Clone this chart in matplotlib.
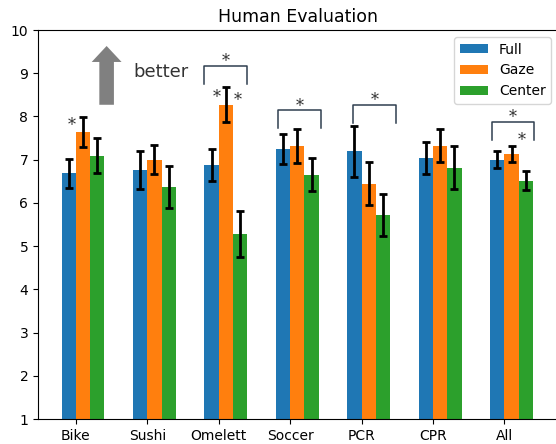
import numpy as np
import matplotlib
matplotlib.use('Agg')
import matplotlib.pyplot as plt

# 数据
tasks = ['Bike', 'Sushi', 'Omelett', 'Soccer', 'PCR', 'CPR', 'All']
full = [6.68, 6.76, 6.88, 7.25, 7.20, 7.04, 7.00]
full_err = [0.34, 0.45, 0.37, 0.35, 0.59, 0.38, 0.20]
gaze = [7.64, 7.00, 8.27, 7.32, 6.44, 7.32, 7.13]
gaze_err = [0.35, 0.34, 0.40, 0.40, 0.50, 0.38, 0.18]
center = [7.09, 6.37, 5.28, 6.65, 5.72, 6.81, 6.51]
center_err = [0.40, 0.48, 0.53, 0.38, 0.48, 0.50, 0.22]

# 显著性标记：括号 (组, 左偏移, 右偏移, 高度)
brackets = [(2, -0.20, 0.40, 9.16), (3, -0.17, 0.43, 8.14),
            (4, -0.12, 0.48, 8.26), (6, -0.18, 0.42, 7.87)]
# 单个星号 (x, y)
stars = [(-0.06, 7.80), (1.97, 8.43), (2.26, 8.37), (6.24, 7.45)]

x = np.arange(len(tasks))
w = 0.2

fig = plt.figure(figsize=(5.56, 4.44), dpi=100)
ax = fig.add_axes([38 / 556, 25 / 444, 520 / 556, 389 / 444])

ekw = dict(elinewidth=2, capsize=3, capthick=2, ecolor='black')
ax.bar(x - w, full, w, align='edge', color='#1f77b4', label='Full',
       yerr=full_err, error_kw=ekw)
ax.bar(x, gaze, w, align='edge', color='#ff7f0e', label='Gaze',
       yerr=gaze_err, error_kw=ekw)
ax.bar(x + w, center, w, align='edge', color='#2ca02c', label='Center',
       yerr=center_err, error_kw=ekw)

ax.set_xticks(x)
ax.set_xticklabels(tasks)
ax.set_ylim(1, 10)
ax.set_title('Human Evaluation', fontsize=12.5)
ax.legend(loc='upper right')

for g, lo, hi, h in brackets:
    ax.plot([g + lo, g + lo, g + hi, g + hi], [h - 0.41, h, h, h - 0.41],
            color='#2f3f4f', lw=1.1)
    ax.text(g + (lo + hi) / 2, h + 0.1, '*', ha='center', va='center',
            fontsize=11.5, family='DejaVu Serif', color='#333333')

for sx, sy in stars:
    ax.text(sx, sy, '*', ha='center', va='center', fontsize=11.5,
            family='DejaVu Serif', color='#333333')

# better 箭头
ax.annotate('', xy=(0.43, 9.63), xytext=(0.43, 8.27),
            arrowprops=dict(facecolor='#808080', edgecolor='none',
                            width=10.5, headwidth=21.5, headlength=11.5,
                            shrink=0))
ax.text(0.81, 9.03, 'better', fontsize=13, va='center', color='#333333')

fig.savefig('out.png', dpi=100)
